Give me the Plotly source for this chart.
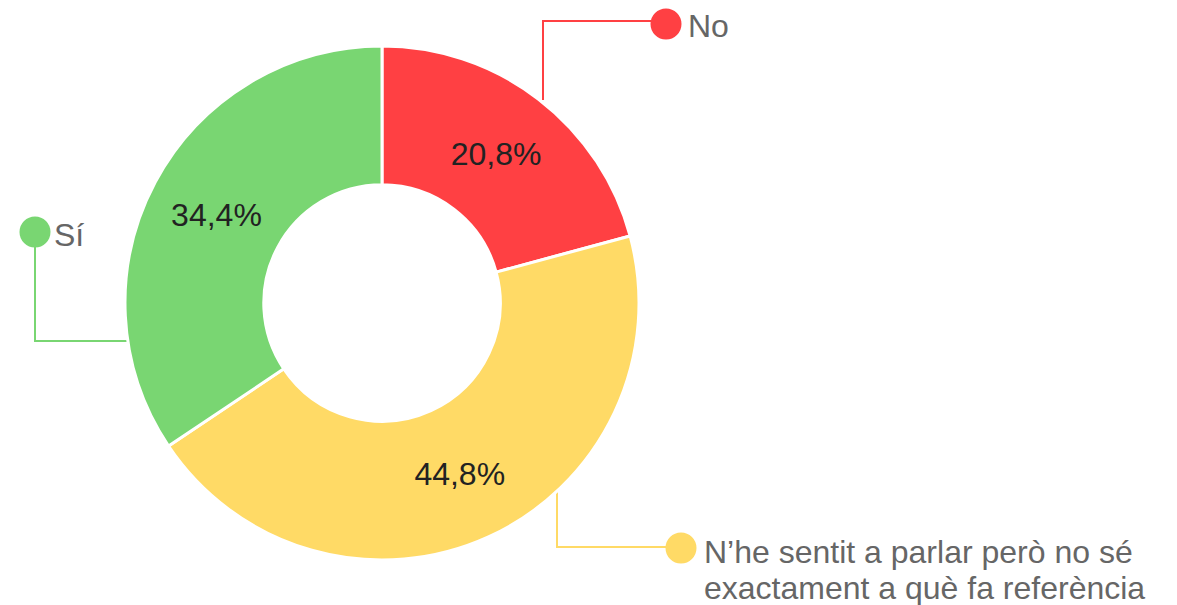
import plotly.graph_objects as go

# ---- data ----
categories = ["No", "N’he sentit a parlar però no sé exactament a què fa referència", "Sí"]
values = [20.8, 44.8, 34.4]
pct_labels = ["20,8%", "44,8%", "34,4%"]
label_lines = [["No"], ["N’he sentit a parlar però no sé", "exactament a què fa referència"], ["Sí"]]
colors = ["#FF4043", "#FFDA66", "#79D672"]

# page body has an 8px margin; work in page pixels and convert
OFF = 8
W, H = 1177 - OFF, 605 - OFF

def px(x, y):
    return (x - OFF) / W, 1 - (y - OFF) / H

FONT = "Liberation Sans, Arial, sans-serif"

# pie geometry (page pixels)
cx, cy, R = 382, 303, 257
x0, y1 = px(cx - R, cy - R)
x1, y0 = px(cx + R, cy + R)

fig = go.Figure()
fig.add_trace(go.Pie(
    labels=categories,
    values=values,
    text=pct_labels,
    textinfo="text",
    textposition="inside",
    insidetextorientation="horizontal",
    textfont=dict(family=FONT, size=32, color="#222222"),
    hole=0.46,
    sort=False,
    direction="clockwise",
    rotation=0,
    marker=dict(colors=colors, line=dict(color="white", width=3)),
    domain=dict(x=[x0, x1], y=[y0, y1]),
    showlegend=False,
    hoverinfo="label+percent",
))

# connector lines + dots (label layout, page pixel positions)
connectors = [
    # (path points, dot center, color, lines, label x, label y of first line)
    ([(543, 100), (543, 21), (666, 21)], (666, 24), colors[0], label_lines[0], 686, 26),
    ([(557, 480), (557, 547), (681, 547)], (681, 548), colors[1], label_lines[1], 702, 552),
    ([(127, 341), (35, 341), (35, 232)], (35, 232), colors[2], label_lines[2], 52, 235),
]
LINE_GAP = 36

shapes = []
annotations = []
for pts, (dx, dy), col, lines, lx, ly in connectors:
    path = "M " + " L ".join(f"{px(x, y)[0]},{px(x, y)[1]}" for x, y in pts)
    shapes.append(dict(type="path", xref="paper", yref="paper", path=path,
                       line=dict(color=col, width=2), layer="below"))
    r = 15.5
    ax0, ay1 = px(dx - r, dy - r)
    ax1, ay0 = px(dx + r, dy + r)
    shapes.append(dict(type="circle", xref="paper", yref="paper",
                       x0=ax0, x1=ax1, y0=ay0, y1=ay1,
                       fillcolor=col, line=dict(width=0), layer="above"))
    for i, line in enumerate(lines):
        tx, ty = px(lx, ly + i * LINE_GAP)
        annotations.append(dict(x=tx, y=ty, xref="paper", yref="paper", text=line,
                                showarrow=False, xanchor="left", yanchor="middle", align="left",
                                font=dict(family=FONT, size=32, color="#666666")))

fig.update_layout(
    width=W, height=H,
    margin=dict(l=0, r=0, t=0, b=0),
    paper_bgcolor="white",
    plot_bgcolor="white",
    shapes=shapes,
    annotations=annotations,
)

fig.write_html("out.html")
